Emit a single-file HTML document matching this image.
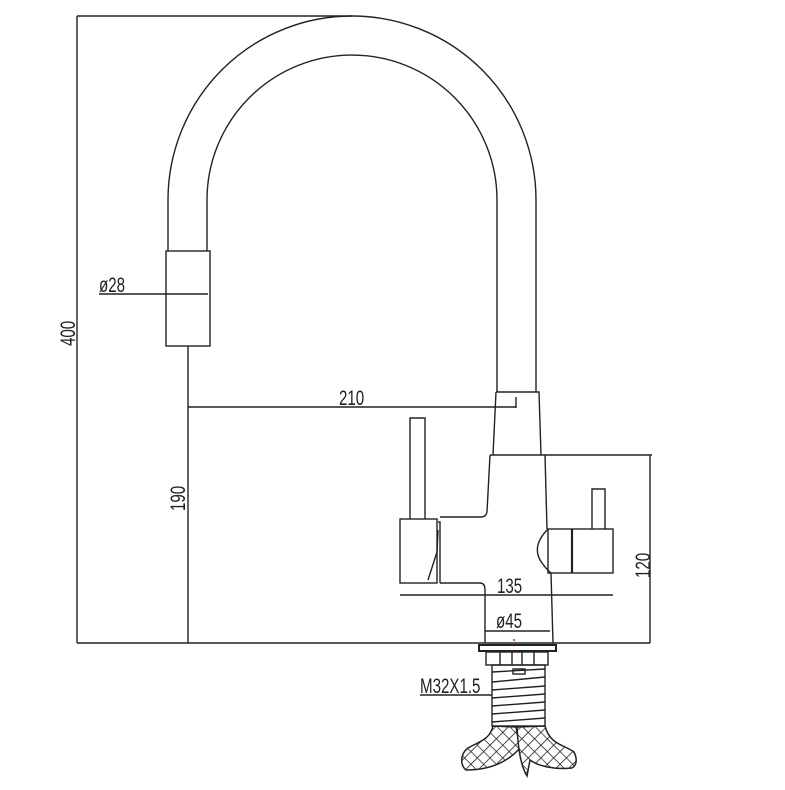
<!DOCTYPE html>
<html><head><meta charset="utf-8"><style>
html,body{margin:0;padding:0;background:#fff;}
svg{display:block;}
text{font-family:"Liberation Sans",sans-serif;font-size:21px;fill:#222;}
</style></head><body>
<svg width="785" height="790" viewBox="0 0 785 790" xmlns="http://www.w3.org/2000/svg">
<defs>
<pattern id="hatch" width="9" height="9" patternUnits="userSpaceOnUse" patternTransform="rotate(45)">
<rect width="9" height="9" fill="#fff"/>
<path d="M0 0H9M0 0V9" stroke="#222" stroke-width="1.6"/>
</pattern>
</defs>
<g fill="none" stroke="#222" stroke-width="1.4">
<line x1="77" y1="16" x2="352" y2="16"/>
<line x1="77" y1="16" x2="77" y2="643"/>
<path d="M168 251 V200 A184 184 0 0 1 536 200 V392"/>
<path d="M207 251 V200 A145 145 0 0 1 497 200 V392"/>
<rect x="166" y="251" width="44" height="95"/>
<line x1="99" y1="294" x2="208" y2="294"/>
<line x1="188" y1="346" x2="188" y2="643"/>
<line x1="188" y1="407" x2="516" y2="407"/>
<line x1="516" y1="397" x2="516" y2="408"/>
<path d="M496 392 H539 L541 455 M496 392 L493 455"/>
<path d="M490 455 H545 L547 529"/>
<path d="M490 455 L487 512 Q486 517 481 517 H440"/>
<path d="M440 583 H480 Q485 583 485 590 V643"/>
<path d="M551 573 L553 643"/>
<rect x="400" y="519" width="37" height="64"/>
<path d="M410 519 V418 H425 V519"/>
<path d="M438 522 L440 522 V583 M438 530 L437 552 L428 580"/>
<path d="M548 529 Q532 545 540 560 Q545 568 551 573"/>
<rect x="548" y="529" width="65" height="44"/>
<line x1="572" y1="529" x2="572" y2="573" stroke-width="2.2"/>
<path d="M592 529 V489 H605 V529"/>
<line x1="545" y1="455" x2="652" y2="455"/>
<line x1="650" y1="455" x2="650" y2="643"/>
<line x1="400" y1="595" x2="613" y2="595"/>
<line x1="485" y1="631" x2="550" y2="631"/>
<line x1="77" y1="643" x2="650" y2="643"/>
<rect x="479" y="645" width="77" height="6" stroke-width="2"/>
<rect x="486" y="652" width="62" height="13"/>
<path d="M500 652V665M512 652V665M522 652V665M534 652V665"/>
<rect x="513" y="669" width="12" height="5"/>
<rect x="492" y="665" width="53" height="61"/>
<path d="M492 672L545 669M492 682L545 677M492 690L545 686M492 698L545 694M492 706L545 702M492 714L545 710M492 722L545 718"/>
<line x1="420" y1="695" x2="492" y2="695"/>
</g>
<path d="M493 726 C490 740 478 742 468 748 C460 754 460 765 466 770 C485 770 505 765 520 748 L516 727 Z" fill="url(#hatch)" stroke="#222" stroke-width="1.5"/>
<path d="M517 727 L545 726 C550 745 565 745 574 752 C578 760 576 766 572 768 C555 770 538 766 530 760 L527 776 C520 765 518 745 517 727 Z" fill="url(#hatch)" stroke="#222" stroke-width="1.5"/>
<circle cx="514" cy="640" r="1" fill="#d22"/>
<text transform="translate(99 292) scale(0.72 1)">ø28</text>
<text transform="translate(339 405) scale(0.72 1)">210</text>
<text transform="translate(497 593) scale(0.72 1)">135</text>
<text transform="translate(496 628) scale(0.72 1)">ø45</text>
<text transform="translate(420 693) scale(0.72 1)">M32X1.5</text>
<text transform="translate(75 346) rotate(-90) scale(0.72 1)">400</text>
<text transform="translate(185 511) rotate(-90) scale(0.72 1)">190</text>
<text transform="translate(650 578) rotate(-90) scale(0.72 1)">120</text>
</svg>
</body></html>
